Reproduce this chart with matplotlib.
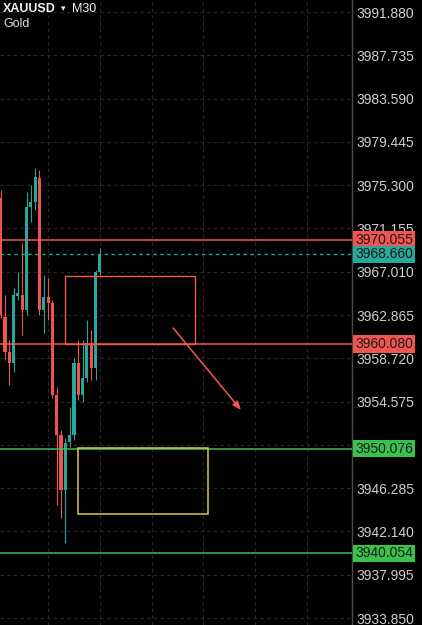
import matplotlib
matplotlib.use("Agg")
import matplotlib.pyplot as plt
from matplotlib.patches import Rectangle
from matplotlib.transforms import offset_copy

# ---------------- data ----------------
opens  = [3974.07, 3962.67, 3959.32, 3958.27, 3964.68, 3964.78, 3963.34, 3973.21,
          3973.69, 3975.98, 3963.34, 3964.59, 3964.01, 3955.20, 3951.37, 3946.11,
          3950.70, 3951.37, 3958.27, 3955.20, 3956.83, 3960.18, 3957.79, 3966.98]
highs  = [3974.83, 3964.78, 3960.47, 3965.45, 3966.98, 3969.76, 3974.64, 3975.31,
          3976.94, 3976.75, 3966.70, 3966.41, 3964.30, 3955.97, 3951.85, 3951.08,
          3954.05, 3958.75, 3960.47, 3960.47, 3962.39, 3961.43, 3967.17, 3969.28]
lows   = [3962.58, 3958.56, 3956.16, 3957.41, 3964.30, 3960.95, 3962.86, 3971.77,
          3972.92, 3962.86, 3961.14, 3962.39, 3954.91, 3944.67, 3943.42, 3941.03,
          3950.22, 3950.89, 3954.72, 3954.53, 3956.45, 3956.64, 3956.64, 3966.70]
closes = [3962.86, 3959.32, 3958.27, 3964.78, 3964.97, 3963.34, 3973.21, 3973.69,
          3976.08, 3963.34, 3964.59, 3964.01, 3955.20, 3951.37, 3946.11, 3950.61,
          3951.37, 3958.27, 3955.20, 3956.83, 3960.18, 3957.79, 3966.98, 3968.66]

tick_values = [3991.880, 3987.735, 3983.590, 3979.445, 3975.300, 3971.155, 3967.010,
               3962.865, 3958.720, 3954.575, 3950.430, 3946.285, 3942.140, 3937.995,
               3933.850]
hidden_ticks = [3950.430]

resistance_levels = [3970.055, 3960.080]
support_levels = [3950.076, 3940.054]
last_price = 3968.660

red_zone = (15.0, 45.0, 3960.080, 3966.60)      # x0, x1, y0, y1
yellow_zone = (18.0, 48.0, 3943.78, 3950.10)
arrow_start = (40.0, 3961.62)
arrow_end = (55.75, 3953.77)
vgrid_x = [11, 23, 35, 47, 59, 71]

symbol = "XAUUSD"
timeframe = "M30"
name = "Gold"

# ---------------- style ----------------
BG = "#000000"
UP = "#27a89a"
DOWN = "#ef5350"
RLINE = "#ee5a52"
GLINE = "#3dbb59"
GBOX = "#38c24c"
YEL = "#d9c84e"
GRID = "#2a2a2a"
TXT = "#cfcfcf"
FONT = ["Liberation Sans", "DejaVu Sans"]
plt.rcParams["font.family"] = FONT

W, H = 422, 625
fig = plt.figure(figsize=(W / 100, H / 100), dpi=100, facecolor=BG)
ax = fig.add_axes([0, 0, 352 / W, 1])
ax.set_facecolor(BG)

ax.set_xlim(-0.162, 81.5)
ax.set_ylim(3933.18, 3993.03)

# grid
for v in tick_values:
    ax.axhline(v, color=GRID, lw=0.8, ls=(0, (3, 3)), zorder=0)
for xv in vgrid_x:
    ax.axvline(xv, color=GRID, lw=0.8, ls=(0, (3, 3)), zorder=0)

# candles
bw = 0.72
for i, (o, h, l, c) in enumerate(zip(opens, highs, lows, closes)):
    col = UP if c >= o else DOWN
    ax.plot([i, i], [l, h], color=col, lw=0.8, zorder=3, solid_capstyle="butt")
    ax.add_patch(Rectangle((i - bw / 2, min(o, c)), bw, max(abs(c - o), 0.08),
                           facecolor=col, edgecolor="none", zorder=4))

# levels
for lv in resistance_levels:
    ax.axhline(lv, color=RLINE, lw=1.1, zorder=5)
for lv in support_levels:
    ax.axhline(lv, color=GLINE, lw=1.1, zorder=5)
ax.axhline(last_price, color=UP, lw=1.0, ls=(0, (2.5, 2.5)), zorder=5)

# zones
x0, x1, y0, y1 = red_zone
ax.add_patch(Rectangle((x0, y0), x1 - x0, y1 - y0, facecolor="none",
                       edgecolor=RLINE, lw=1.0, zorder=5))
x0, x1, y0, y1 = yellow_zone
ax.add_patch(Rectangle((x0, y0), x1 - x0, y1 - y0, facecolor="none",
                       edgecolor=YEL, lw=1.1, zorder=5))

ax.annotate("", xy=arrow_end, xytext=arrow_start,
            arrowprops=dict(arrowstyle="-|>,head_length=0.5,head_width=0.2",
                            color=RLINE, lw=1.1, shrinkA=0, shrinkB=0), zorder=6)

# axes / ticks
for s in ["top", "left", "bottom"]:
    ax.spines[s].set_visible(False)
ax.spines["right"].set_color("#4a4a4a")
ax.spines["right"].set_linewidth(1.0)
ax.set_xticks([])
ax.yaxis.tick_right()
ax.set_yticks(tick_values)
ax.set_yticklabels(["" if v in hidden_ticks else f"{v:.3f}" for v in tick_values])
ax.tick_params(axis="y", length=0, pad=3, labelsize=10, labelcolor=TXT)

# price labels
label_tr = offset_copy(ax.get_yaxis_transform(), fig=fig, x=3, y=0, units="dots")

def price_label(v, fc):
    ax.text(1.0, v, f"{v:.3f}", transform=label_tr,
            ha="left", va="center", fontsize=10, color="#1a1a1a",
            clip_on=False, zorder=10,
            bbox=dict(boxstyle="square,pad=0.12", fc=fc, ec="none"))

for lv in resistance_levels:
    price_label(lv, "#f0564f")
price_label(last_price, "#27a89a")
for lv in support_levels:
    price_label(lv, GBOX)

# title
fig.text(3 / W, 1 - 8.5 / H, symbol, color="#f2f2f2", fontsize=9, fontweight="bold",
         ha="left", va="center")
fig.text(61 / W, 1 - 8.5 / H, "\u25BE", color="#f2f2f2", fontsize=6.5,
         ha="left", va="center", family=["DejaVu Sans"])
fig.text(72 / W, 1 - 8.5 / H, timeframe, color="#f2f2f2", fontsize=9,
         ha="left", va="center")
fig.text(3 / W, 1 - 24 / H, name, color="#dcdcdc", fontsize=9,
         ha="left", va="center")

fig.savefig("out.png", dpi=100, facecolor=BG)
